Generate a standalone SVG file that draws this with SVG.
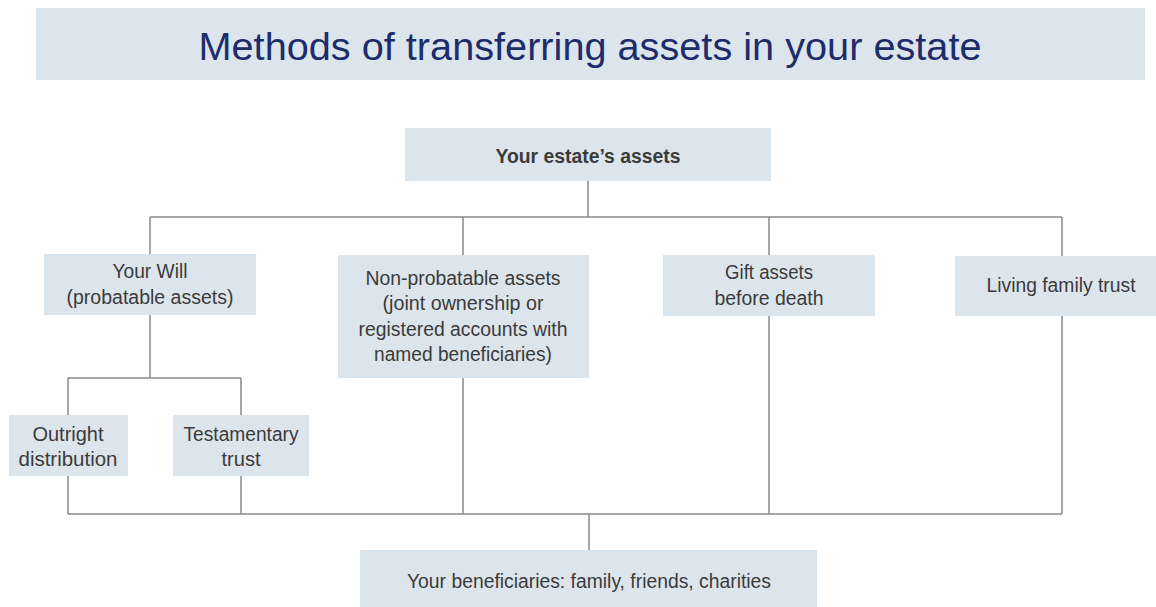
<svg xmlns="http://www.w3.org/2000/svg" width="1156" height="607" viewBox="0 0 1156 607">
  <style>
    .box { fill: #dce5ec; }
    .lbl { font-family: "Liberation Sans", Arial, sans-serif; font-size: 20px; fill: #3b3b3b; text-anchor: middle; }
    .bold { font-weight: bold; }
    .title { font-family: "Liberation Sans", Arial, sans-serif; font-size: 38px; fill: #1e2c6b; text-anchor: middle; }
    .wire { fill: none; stroke: #8a8a8a; stroke-width: 1.5; }
  </style>
  <rect width="1156" height="607" fill="#ffffff"/>

  <g id="title">
    <rect class="box" x="36" y="8" width="1109" height="72"/>
    <text class="title" x="590" y="60" textLength="783" lengthAdjust="spacingAndGlyphs">Methods of transferring assets in your estate</text>
  </g>

  <g id="connectors">
    <path class="wire" d="M588 181 V217 M150 217 H1062 M150 217 V254 M463 217 V255 M769 217 V255 M1062 217 V256"/>
    <path class="wire" d="M150 315 V378 M68 378 H241 M68 378 V415 M241 378 V415"/>
    <path class="wire" d="M68 476 V514 M241 476 V514 M463 378 V514 M769 316 V514 M1062 316 V514 M68 514 H1062 M589 514 V550"/>
  </g>

  <g id="estate-assets">
    <rect class="box" x="405" y="128" width="366" height="53"/>
    <text class="lbl bold" x="588" y="163" textLength="185" lengthAdjust="spacingAndGlyphs">Your estate’s assets</text>
  </g>

  <g id="your-will">
    <rect class="box" x="44" y="254" width="212" height="61"/>
    <text class="lbl" x="150" y="278" textLength="75" lengthAdjust="spacingAndGlyphs">Your Will</text>
    <text class="lbl" x="150" y="304" textLength="167" lengthAdjust="spacingAndGlyphs">(probatable assets)</text>
  </g>

  <g id="non-probatable">
    <rect class="box" x="338" y="255" width="251" height="123"/>
    <text class="lbl" x="463" y="285" textLength="195" lengthAdjust="spacingAndGlyphs">Non-probatable assets</text>
    <text class="lbl" x="463" y="310" textLength="161" lengthAdjust="spacingAndGlyphs">(joint ownership or</text>
    <text class="lbl" x="463" y="336" textLength="209" lengthAdjust="spacingAndGlyphs">registered accounts with</text>
    <text class="lbl" x="463" y="361" textLength="178" lengthAdjust="spacingAndGlyphs">named beneficiaries)</text>
  </g>

  <g id="gift-assets">
    <rect class="box" x="663" y="255" width="212" height="61"/>
    <text class="lbl" x="769" y="279" textLength="88" lengthAdjust="spacingAndGlyphs">Gift assets</text>
    <text class="lbl" x="769" y="305" textLength="109" lengthAdjust="spacingAndGlyphs">before death</text>
  </g>

  <g id="living-trust">
    <rect class="box" x="955" y="256" width="201" height="60"/>
    <text class="lbl" x="1061" y="292" textLength="149" lengthAdjust="spacingAndGlyphs">Living family trust</text>
  </g>

  <g id="outright">
    <rect class="box" x="9" y="415" width="119" height="61"/>
    <text class="lbl" x="68" y="441" textLength="71" lengthAdjust="spacingAndGlyphs">Outright</text>
    <text class="lbl" x="68" y="466" textLength="99" lengthAdjust="spacingAndGlyphs">distribution</text>
  </g>

  <g id="testamentary">
    <rect class="box" x="173" y="415" width="136" height="61"/>
    <text class="lbl" x="241" y="441" textLength="115" lengthAdjust="spacingAndGlyphs">Testamentary</text>
    <text class="lbl" x="241" y="466" textLength="39" lengthAdjust="spacingAndGlyphs">trust</text>
  </g>

  <g id="beneficiaries">
    <rect class="box" x="360" y="550" width="457" height="57"/>
    <text class="lbl" x="589" y="588" textLength="364" lengthAdjust="spacingAndGlyphs">Your beneficiaries: family, friends, charities</text>
  </g>
</svg>
